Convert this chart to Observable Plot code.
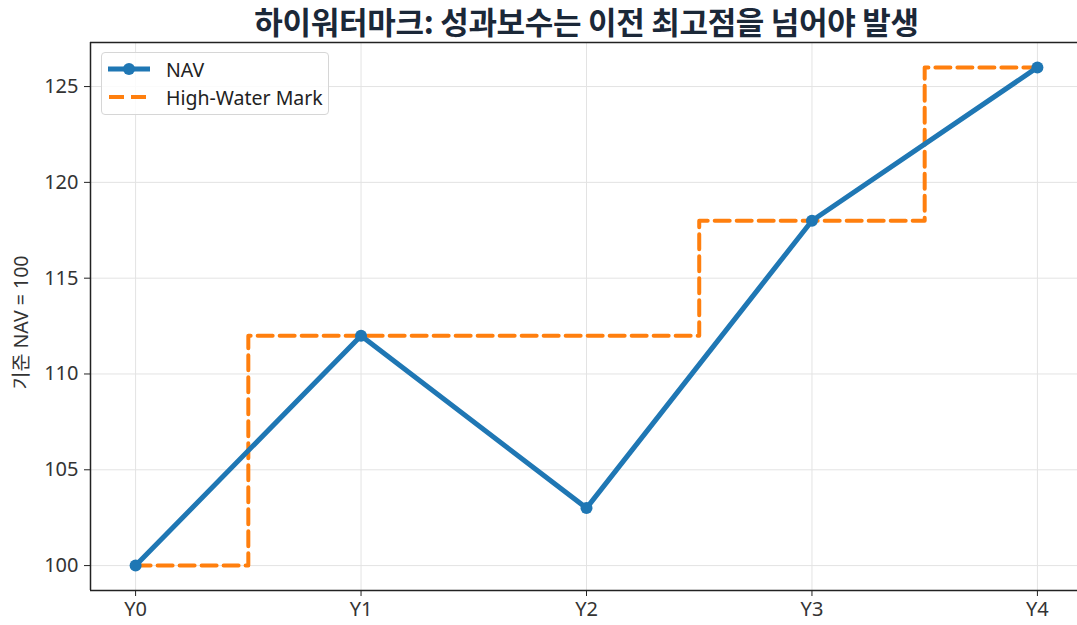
<!DOCTYPE html>
<html><head><meta charset="utf-8">
<script src="https://cdn.jsdelivr.net/npm/d3@7"></script>
<script src="https://cdn.jsdelivr.net/npm/@observablehq/plot@0.6"></script>
<style>
html,body{margin:0;padding:0;background:#fff;overflow:hidden;}
#wrap{position:relative;width:1077px;height:625px;font-family:"Noto Sans","Noto Sans CJK KR",sans-serif;}
#title{height:40px;line-height:40px;margin-bottom:-4px;padding-top:1px;text-align:center;font-size:31px;font-weight:bold;color:#1b2838;padding-left:96px;box-sizing:border-box;white-space:nowrap;font-family:"Noto Sans CJK KR",sans-serif;letter-spacing:-0.3px;position:relative;z-index:2;}
#legend{position:absolute;left:101px;top:52px;width:228px;height:63px;box-sizing:border-box;border:1px solid #d6d6d6;border-radius:4px;background:rgba(255,255,255,0.85);font-size:19.5px;color:#222;}
.row{position:absolute;left:0;height:26px;display:flex;align-items:center;}
.row svg{margin-left:4px;margin-right:14px;}
</style></head>
<body><div id="wrap"><div id="title">하이워터마크: 성과보수는 이전 최고점을 넘어야 발생</div><div id="chart"></div>
<div id="legend">
<div class="row" style="top:3px"><svg width="46" height="20"><line x1="2" x2="44" y1="10" y2="10" stroke="#1f77b4" stroke-width="5"/><circle cx="23" cy="10" r="6" fill="#1f77b4"/></svg><span>NAV</span></div>
<div class="row" style="top:31px"><svg width="46" height="20"><line x1="3" x2="44" y1="10" y2="10" stroke="#ff7f0e" stroke-width="4" stroke-dasharray="15,7"/></svg><span>High-Water Mark</span></div>
</div></div>
<script>
const years = ["Y0", "Y1", "Y2", "Y3", "Y4"];
const nav = [100, 112, 103, 118, 126];
const hwm = [100, 112, 112, 118, 126];
const yTicks = [100, 105, 110, 115, 120, 125];
const yLabel = "기준 NAV = 100";

const idx = years.map((d, i) => i);
const navData = idx.map(i => ({x: i, y: nav[i]}));
const hwmData = idx.map(i => ({x: i, y: hwm[i]}));
const yMin = 98.7, yMax = 127.3;

const plot = Plot.plot({
  width: 1077,
  height: 589,
  marginLeft: 90,
  marginRight: -5,
  marginTop: 6,
  marginBottom: 35,
  style: 'font-family:"Noto Sans","Noto Sans CJK KR",sans-serif;font-size:20px;color:#333;background:#fff;overflow:visible;',
  x: {domain: [-0.2, 4.2]},
  y: {domain: [yMin, yMax]},
  marks: [
    Plot.gridX(idx, {stroke: "#e3e3e3", strokeOpacity: 1, strokeWidth: 1}),
    Plot.gridY(yTicks, {stroke: "#e3e3e3", strokeOpacity: 1, strokeWidth: 1}),
    Plot.axisX(idx, {tickFormat: i => years[i], tickSize: 6, tickPadding: 5, stroke: "#222", fill: "#333", label: null, fontSize: 20}),
    Plot.axisY(yTicks, {tickSize: 6, tickPadding: 6, stroke: "#222", fill: "#333", label: null, fontSize: 20}),
    Plot.text([yLabel], {frameAnchor: "left", textAnchor: "middle", dx: -69, dy: 6, rotate: -90, fontSize: 19.5, fill: "#333"}),
    Plot.line(hwmData, {x: "x", y: "y", curve: "step", stroke: "#ff7f0e", strokeWidth: 4, strokeDasharray: "15,7"}),
    Plot.line(navData, {x: "x", y: "y", stroke: "#1f77b4", strokeWidth: 5}),
    Plot.dot(navData, {x: "x", y: "y", r: 6, fill: "#1f77b4"}),
    Plot.ruleX([-0.2], {stroke: "#222", strokeWidth: 1.5}),
    Plot.ruleY([yMin], {stroke: "#222", strokeWidth: 1.5}),
    Plot.ruleY([yMax], {stroke: "#222", strokeWidth: 1.5})
  ]
});
document.getElementById("chart").appendChild(plot);
</script></body></html>
